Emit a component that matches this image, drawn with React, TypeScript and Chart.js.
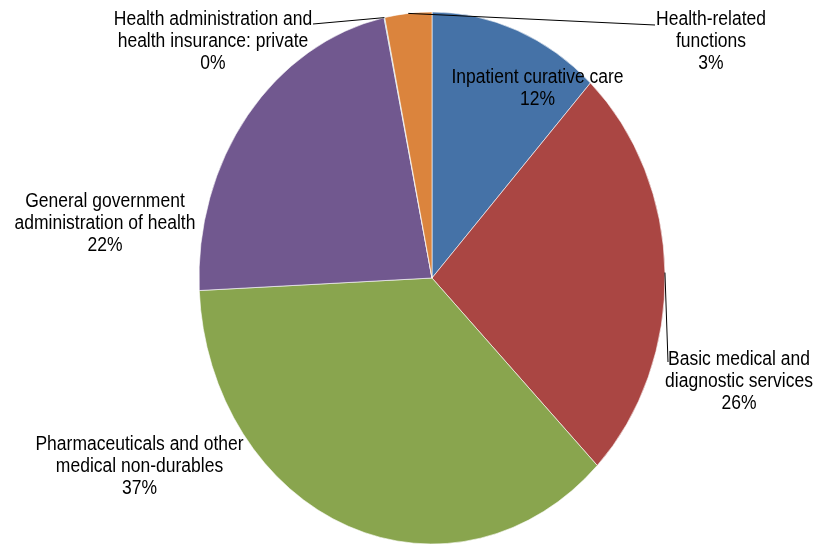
import { useEffect, useRef } from 'react';
import { Chart, registerables } from 'chart.js';

Chart.register(...registerables);

const categories = [
  'Inpatient curative care',
  'Basic medical and diagnostic services',
  'Pharmaceuticals and other medical non-durables',
  'General government administration of health',
  'Health administration and health insurance: private',
  'Health-related functions',
];
const shares = [11.9, 25.55, 36.8, 22.45, 0.05, 3.25];
const percentLabels = ['12%', '26%', '37%', '22%', '0%', '3%'];
const labelLines = [
  ['Inpatient curative care'],
  ['Basic medical and', 'diagnostic services'],
  ['Pharmaceuticals and other', 'medical non-durables'],
  ['General government', 'administration of health'],
  ['Health administration and', 'health insurance: private'],
  ['Health-related', 'functions'],
];
const sliceColors = ['#4572A7', '#AA4643', '#89A54E', '#71588F', '#4198AF', '#DB843D'];

const W = 815;
const H = 544;
const RX = 233;
const RY = 266;
const SY = RY / RX;
const FONT = '17.5px "Liberation Sans", Arial, sans-serif';
const LINE_GAP = 22;

type Layout = { x: number; y: number; leaderTo?: [number, number] };
const labelLayout: Layout[] = [
  { x: 537.5, y: 83 },
  { x: 739, y: 365, leaderTo: [668, 362] },
  { x: 139.5, y: 450 },
  { x: 105, y: 207 },
  { x: 213, y: 25, leaderTo: [313, 24] },
  { x: 711, y: 25, leaderTo: [655, 25] },
];

const ellipsePlugin = {
  id: 'ellipse',
  beforeDatasetsDraw(chart: any) {
    const arc = chart.getDatasetMeta(0).data[0];
    const ctx = chart.ctx;
    ctx.save();
    ctx.translate(arc.x, arc.y);
    ctx.scale(1, SY);
    ctx.translate(-arc.x, -arc.y);
  },
  afterDatasetsDraw(chart: any) {
    chart.ctx.restore();
  },
};

const labelPlugin = {
  id: 'sliceLabels',
  afterDraw(chart: any) {
    const ctx = chart.ctx;
    const arcs = chart.getDatasetMeta(0).data;
    ctx.save();
    ctx.strokeStyle = '#000';
    ctx.lineWidth = 1;
    arcs.forEach((arc: any, i: number) => {
      const lay = labelLayout[i];
      if (!lay.leaderTo) return;
      const mid = (arc.startAngle + arc.endAngle) / 2;
      const px = arc.x + arc.outerRadius * Math.cos(mid);
      const py = arc.y + arc.outerRadius * Math.sin(mid) * SY;
      ctx.beginPath();
      ctx.moveTo(px, py);
      ctx.lineTo(lay.leaderTo[0], lay.leaderTo[1]);
      ctx.stroke();
    });
    ctx.font = FONT;
    ctx.fillStyle = '#000';
    ctx.textAlign = 'center';
    ctx.textBaseline = 'alphabetic';
    labelLines.forEach((lines, i) => {
      const all = [...lines, percentLabels[i]];
      all.forEach((t, j) => {
        ctx.save();
        ctx.translate(labelLayout[i].x, labelLayout[i].y + j * LINE_GAP);
        ctx.scale(1, SY);
        ctx.fillText(t, 0, 0);
        ctx.restore();
      });
    });
    ctx.restore();
  },
};

export default function App() {
  const ref = useRef<HTMLCanvasElement | null>(null);
  useEffect(() => {
    if (!ref.current) return;
    const chart = new Chart(ref.current, {
      type: 'pie',
      data: {
        labels: categories,
        datasets: [
          {
            data: shares,
            backgroundColor: sliceColors,
            borderColor: 'rgba(255,255,255,0.7)',
            borderWidth: 0.8,
            hoverOffset: 0,
            radius: RX,
          } as any,
        ],
      },
      options: {
        animation: false,
        responsive: false,
        events: [],
        layout: { padding: { left: 199, right: 150, top: 45, bottom: 33 } },
        plugins: {
          legend: { display: false },
          tooltip: { enabled: false },
        },
      } as any,
      plugins: [ellipsePlugin, labelPlugin],
    });
    return () => chart.destroy();
  }, []);
  return (
    <div style={{ position: 'fixed', left: 0, top: 0, width: W, height: H, background: '#fff' }}>
      <canvas ref={ref} width={W} height={H} style={{ display: 'block', width: W, height: H }} />
    </div>
  );
}
